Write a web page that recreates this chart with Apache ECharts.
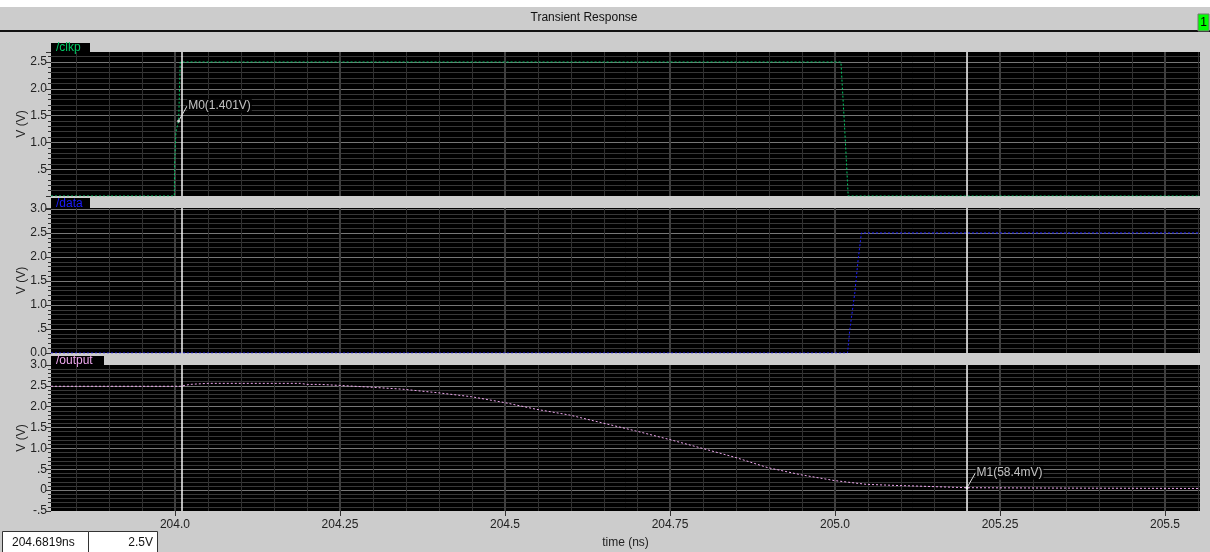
<!DOCTYPE html>
<html>
<head>
<meta charset="utf-8">
<script src="https://cdn.jsdelivr.net/npm/echarts@6/dist/echarts.min.js"></script>
<style>
html,body{margin:0;padding:0;background:#cccccc;}
#c{width:1210px;height:552px;}
</style>
</head>
<body>
<div id="c"></div>
<script>
// ---------- data ----------
const xMin = 203.8122, xMax = 205.553;
const xMajorTicks = [204.0, 204.25, 204.5, 204.75, 205.0, 205.25, 205.5];
const xTickLabels = ['204.0', '204.25', '204.5', '204.75', '205.0', '205.25', '205.5'];
const xMinorStep = 0.05;

const clkpTime = [203.8122, 203.999, 203.9995, 204.0015, 204.0056, 204.008, 205.009, 205.0145, 205.020, 205.553];
const clkpVolt = [0, 0, 0.6, 1.2, 1.401, 2.5, 2.5, 1.3, 0, 0];

const dataTime = [203.8122, 205.019, 205.0225, 205.030, 205.035, 205.040, 205.553];
const dataVolt = [0, 0, 0.49, 1.25, 1.94, 2.5, 2.5];

const outTime = [203.8122, 204.008, 204.023, 204.05, 204.19, 204.20, 204.22, 204.25, 204.295, 204.345, 204.398, 204.449, 204.499, 204.547, 204.598, 204.648, 204.698, 204.749, 204.798, 204.850, 204.898, 204.948, 204.999, 205.047, 205.096, 205.12, 205.2, 205.325, 205.553];
const outVolt = [2.49, 2.49, 2.536, 2.56, 2.56, 2.535, 2.535, 2.51, 2.47, 2.42, 2.335, 2.24, 2.10, 1.94, 1.80, 1.61, 1.42, 1.215, 1.006, 0.78, 0.54, 0.37, 0.23, 0.14, 0.11, 0.10, 0.0584, 0.05, 0.04];

const cursorTimes = [204.0056, 205.2];
const markerM0 = [204.0056, 1.401];
const markerM1 = [205.2, 0.0584];
const markerLabels = ['M0(1.401V)', 'M1(58.4mV)'];

const clkpYTicks = [0, 0.5, 1.0, 1.5, 2.0, 2.5];
const clkpYLabels = ['', '.5', '1.0', '1.5', '2.0', '2.5'];
const dataYTicks = [0, 0.5, 1.0, 1.5, 2.0, 2.5, 3.0];
const dataYLabels = ['0.0', '.5', '1.0', '1.5', '2.0', '2.5', '3.0'];
const outYTicks = [-0.5, 0, 0.5, 1.0, 1.5, 2.0, 2.5, 3.0];
const outYLabels = ['-.5', '0', '.5', '1.0', '1.5', '2.0', '2.5', '3.0'];

const panelNames = ['/clkp', '/data', '/output'];
const panelColors = ['#00c864', '#1c1cff', '#f0a8f0'];
// ---------------------------

const FONT = "'Liberation Sans', 'DejaVu Sans', sans-serif";
const xMinorTicks = [];
for (let k = Math.ceil(xMin / xMinorStep); k * xMinorStep <= xMax; k++) {
  xMinorTicks.push(+(k * xMinorStep).toFixed(2));
}
function zip(a, b) { return a.map((v, i) => [v, b[i]]); }
function lookup(ticks, labels) {
  return function (v) {
    for (let i = 0; i < ticks.length; i++) if (Math.abs(ticks[i] - v) < 1e-6) return labels[i];
    return '';
  };
}

const grids = [
  { left: 51, right: 10, top: 52, height: 144 },
  { left: 51, right: 10, top: 208, height: 145 },
  { left: 51, right: 10, top: 365, height: 146 }
];
const yRanges = [[0, 2.687], [0, 3.02], [-0.5, 3.0]];
const yTickSets = [[clkpYTicks, clkpYLabels], [dataYTicks, dataYLabels], [outYTicks, outYLabels]];

const xAxes = [], yAxes = [];
grids.forEach((g, i) => {
  const isBottom = i === 2;
  xAxes.push({
    type: 'value', gridIndex: i, min: xMin, max: xMax, position: 'bottom',
    axisLine: { show: false },
    axisTick: { show: isBottom, customValues: xMinorTicks, length: 3, lineStyle: { color: '#333' } },
    axisLabel: { show: false },
    splitLine: { show: true, lineStyle: { color: '#303030', width: 1 } }
  });
  xAxes.push({
    type: 'value', gridIndex: i, min: xMin, max: xMax, position: 'bottom',
    axisLine: { show: false },
    axisTick: { show: isBottom, customValues: xMajorTicks, length: 5, lineStyle: { color: '#333' } },
    axisLabel: {
      show: isBottom, customValues: xMajorTicks, margin: 8,
      formatter: lookup(xMajorTicks, xTickLabels),
      color: '#222', fontFamily: FONT, fontSize: 12
    },
    splitLine: { show: true, lineStyle: { color: '#3e3e3e', width: 2 } },
    name: isBottom ? 'time (ns)' : '', nameLocation: 'middle', nameGap: 26,
    nameTextStyle: { color: '#222', fontFamily: FONT, fontSize: 12 }
  });
  yAxes.push({
    type: 'value', gridIndex: i, min: yRanges[i][0], max: yRanges[i][1], interval: 0.5,
    axisLine: { show: false },
    axisTick: { show: true, length: 5, lineStyle: { color: '#333' } },
    minorTick: { show: true, splitNumber: 5, length: 3, lineStyle: { color: '#333' } },
    axisLabel: {
      formatter: lookup(yTickSets[i][0], yTickSets[i][1]),
      showMaxLabel: i === 2, showMinLabel: true,
      color: '#222', fontFamily: FONT, fontSize: 12, margin: 4
    },
    splitLine: { show: true, showMinLine: false, showMaxLine: false, lineStyle: { color: '#777', width: 1 } },
    minorSplitLine: { show: true, lineStyle: { color: '#383838', width: 1 } },
    name: 'V (V)', nameLocation: 'middle', nameGap: 23, nameMoveOverlap: false,
    nameTextStyle: { color: '#222', fontFamily: FONT, fontSize: 12 }
  });
});

const seriesData = [zip(clkpTime, clkpVolt), zip(dataTime, dataVolt), zip(outTime, outVolt)];
const series = [];
seriesData.forEach((d, i) => {
  series.push({
    type: 'line', xAxisIndex: 2 * i + 1, yAxisIndex: i, data: d,
    showSymbol: false, silent: true, z: 3,
    lineStyle: { color: panelColors[i], width: 1, type: [2, 2] },
    markLine: {
      silent: true, symbol: 'none', animation: false, z: 4,
      label: { show: false },
      lineStyle: { color: '#f4f4f4', width: 1.5, type: 'solid' },
      data: cursorTimes.map(t => ({ xAxis: t }))
    }
  });
});
const markers = [[0, markerM0, markerLabels[0]], [2, markerM1, markerLabels[1]]];
markers.forEach(([gi, pt, txt]) => {
  series.push({
    type: 'scatter', xAxisIndex: 2 * gi + 1, yAxisIndex: gi, z: 6,
    data: [pt], symbolSize: 3, itemStyle: { color: '#fff' },
    label: {
      show: true, position: 'right', distance: 5, formatter: txt,
      color: '#f0f0f0', backgroundColor: '#000', padding: [1, 1],
      fontFamily: FONT, fontSize: 12
    },
    labelLayout: { dx: 2, dy: -15 },
    labelLine: { show: true, lineStyle: { color: '#ddd', width: 1 } }
  });
});

const graphic = [
  { type: 'rect', shape: { x: 0, y: 0, width: 1210, height: 7 }, style: { fill: '#fff' }, silent: true },
  { type: 'rect', shape: { x: 0, y: 30, width: 1210, height: 2 }, style: { fill: '#111' }, silent: true },
  { type: 'text', x: 584, y: 18, style: { text: 'Transient Response', fill: '#111', font: '12px ' + FONT, textAlign: 'center', textVerticalAlign: 'middle' } },
  { type: 'rect', shape: { x: 1198, y: 14, width: 11, height: 17 }, style: { fill: '#00ff00', stroke: '#777', lineWidth: 1 } },
  { type: 'text', x: 1203.5, y: 23, style: { text: '1', fill: '#000', font: '12px ' + FONT, textAlign: 'center', textVerticalAlign: 'middle' } },
  { type: 'rect', shape: { x: 2.5, y: 531.5, width: 86, height: 21 }, style: { fill: '#fff', stroke: '#333', lineWidth: 1 } },
  { type: 'rect', shape: { x: 88.5, y: 531.5, width: 69, height: 21 }, style: { fill: '#fff', stroke: '#333', lineWidth: 1 } },
  { type: 'text', x: 12, y: 543, style: { text: '204.6819ns', fill: '#111', font: '12px ' + FONT, textVerticalAlign: 'middle' } },
  { type: 'text', x: 153, y: 543, style: { text: '2.5V', fill: '#111', font: '12px ' + FONT, textAlign: 'right', textVerticalAlign: 'middle' } }
];
const tabTops = [43, 198, 356];
const tabWidths = [39, 39, 53];
panelNames.forEach((n, i) => {
  graphic.push({ type: 'rect', shape: { x: 51, y: tabTops[i], width: tabWidths[i], height: grids[i].top - tabTops[i] }, style: { fill: '#000' }, silent: true });
  graphic.push({ type: 'text', x: 56, y: (tabTops[i] + grids[i].top) / 2 + 0.5, style: { text: n, fill: panelColors[i], font: '12px ' + FONT, textVerticalAlign: 'middle' }, silent: true });
});

const chart = echarts.init(document.getElementById('c'), null, { renderer: 'canvas' });
chart.setOption({
  backgroundColor: '#cccccc',
  animation: false,
  grid: grids.map(g => Object.assign({ show: true, backgroundColor: '#000', borderWidth: 0, containLabel: false }, g)),
  xAxis: xAxes,
  yAxis: yAxes,
  series: series,
  graphic: graphic
});
</script>
</body>
</html>
